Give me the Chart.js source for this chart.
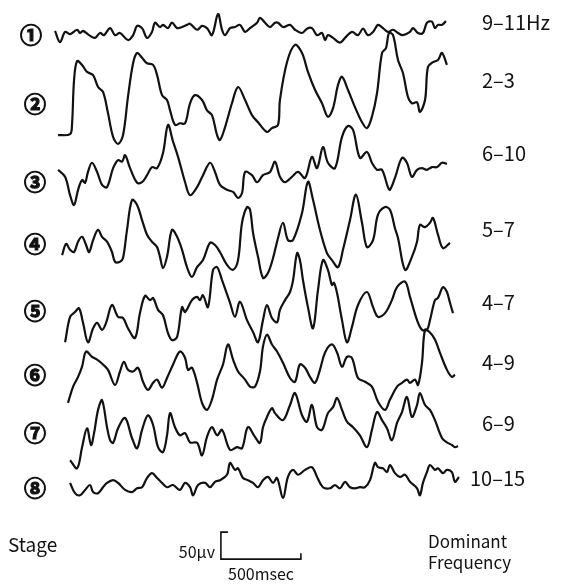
<!DOCTYPE html>
<html>
<head>
<meta charset="utf-8">
<script src="https://cdn.jsdelivr.net/npm/chart.js@4.4.0/dist/chart.umd.min.js"></script>
<style>
  html, body { margin: 0; padding: 0; background: #fff; }
  #wrap { position: absolute; left: 0; top: 0; width: 561px; height: 584px; }
</style>
</head>
<body>
<div id="wrap"><canvas id="eegChart"></canvas></div>
<script>
// EEG traces per stage: [time (ms), amplitude (µV)]
const stage1 = [[0,2],[31,-19],[63,0],[94,-4],[138,4],[156,-2],[175,2],[213,-6],[250,-11],[281,-2],[306,-6],[344,7],[375,-6],[406,-2],[456,-15],[488,-6],[513,11],[544,7],[575,-11],[606,0],[625,17],[656,9],[675,13],[706,7],[731,17],[763,7],[794,9],[825,13],[844,15],[888,4],[919,11],[950,7],[981,-6],[1019,33],[1044,4],[1063,-6],[1094,7],[1125,9],[1156,13],[1188,0],[1219,7],[1263,17],[1281,26],[1313,17],[1344,9],[1375,17],[1394,17],[1425,9],[1469,13],[1500,4],[1544,-2],[1575,6],[1606,7],[1638,-6],[1669,-2],[1688,-15],[1706,-6],[1738,-11],[1781,-20],[1813,-11],[1856,0],[1894,-6],[1925,6],[1956,-6],[1988,0],[2019,13],[2050,7],[2081,0],[2113,4],[2144,-2],[2175,-6],[2219,0],[2238,7],[2269,-2],[2300,-2],[2325,17],[2356,19],[2375,7],[2394,13],[2419,13],[2444,20]];
const stage2 = [[19,-65],[94,-63],[106,-46],[119,37],[138,72],[169,65],[200,52],[238,46],[269,24],[300,15],[331,-24],[363,-68],[394,-81],[425,-65],[456,6],[488,68],[513,87],[544,78],[575,68],[613,65],[638,46],[669,9],[700,0],[719,-19],[750,-46],[781,-43],[813,-43],[844,-6],[875,9],[919,0],[950,-19],[981,-28],[1013,-65],[1031,-74],[1063,-50],[1106,-6],[1144,24],[1188,0],[1231,-28],[1269,-41],[1325,-59],[1356,-52],[1394,-46],[1406,0],[1450,70],[1500,102],[1544,87],[1581,52],[1625,19],[1669,-6],[1706,-31],[1738,-15],[1769,28],[1794,43],[1831,19],[1875,-13],[1919,-41],[1950,-52],[1981,-31],[2013,13],[2044,87],[2069,96],[2088,124],[2113,120],[2144,74],[2175,50],[2206,6],[2231,-6],[2263,-4],[2281,-22],[2313,0],[2331,61],[2363,70],[2394,74],[2419,87],[2450,65]];
const stage3 = [[19,4],[63,-9],[94,-43],[119,-61],[144,-33],[169,-15],[188,-20],[206,0],[231,17],[263,0],[294,-24],[325,-28],[363,7],[394,22],[419,19],[438,31],[469,7],[513,-20],[544,-19],[575,-6],[606,9],[638,7],[675,35],[706,87],[738,56],[769,28],[813,-19],[844,-43],[888,-28],[925,-6],[969,17],[1000,0],[1031,-24],[1075,-33],[1113,-37],[1144,-48],[1169,-39],[1188,0],[1231,-6],[1263,-19],[1300,-6],[1344,0],[1375,19],[1406,-9],[1438,-19],[1481,-9],[1519,0],[1563,-11],[1606,28],[1638,7],[1675,46],[1706,17],[1750,7],[1794,65],[1831,85],[1863,78],[1906,26],[1950,37],[1981,17],[2013,4],[2044,4],[2081,-28],[2094,-33],[2125,-11],[2169,26],[2200,17],[2231,-9],[2263,4],[2294,7],[2325,4],[2356,9],[2388,9],[2419,17],[2450,15]];
const stage4 = [[44,-19],[69,2],[94,-9],[119,-13],[144,6],[169,15],[194,0],[213,-13],[238,9],[269,28],[294,15],[325,6],[356,-13],[375,-31],[406,-31],[425,-24],[450,28],[481,83],[513,74],[544,46],[575,19],[606,6],[638,-4],[656,-22],[675,-43],[700,-22],[731,28],[763,15],[794,-9],[825,-41],[856,-59],[888,-41],[925,-28],[969,4],[1000,0],[1031,-13],[1075,-37],[1113,-46],[1144,-28],[1169,41],[1200,70],[1219,65],[1238,22],[1269,-22],[1300,-61],[1331,-52],[1363,-24],[1394,13],[1425,41],[1456,9],[1488,9],[1544,59],[1581,117],[1613,83],[1656,28],[1700,-15],[1731,-28],[1769,-41],[1800,-9],[1844,46],[1881,93],[1919,41],[1950,-4],[1988,9],[2019,56],[2063,70],[2094,65],[2125,31],[2144,13],[2188,-46],[2231,-22],[2263,6],[2281,37],[2313,33],[2344,41],[2363,50],[2394,19],[2425,-6],[2469,4]];
const stage5 = [[63,-56],[94,-9],[125,0],[150,7],[175,-20],[206,-56],[238,-30],[263,-20],[294,-33],[319,-20],[356,13],[394,-9],[425,-11],[456,-30],[500,-48],[531,-2],[563,30],[594,22],[613,26],[644,4],[675,-6],[706,-39],[731,-52],[763,-46],[794,9],[813,0],[856,22],[888,28],[906,22],[925,31],[956,9],[988,78],[1013,83],[1044,59],[1094,17],[1125,-9],[1156,19],[1200,-15],[1238,-37],[1269,-56],[1300,-15],[1325,13],[1356,-11],[1388,-19],[1406,4],[1438,22],[1469,37],[1488,59],[1513,109],[1531,96],[1550,59],[1581,9],[1613,-30],[1644,41],[1675,96],[1706,78],[1731,50],[1744,54],[1763,35],[1794,-15],[1825,-56],[1856,-28],[1894,13],[1950,37],[1988,9],[2019,-9],[2063,-2],[2106,22],[2138,46],[2188,56],[2219,28],[2263,-15],[2294,-33],[2325,-33],[2344,-15],[2375,22],[2394,26],[2425,46],[2450,37],[2469,17],[2488,-2]];
const stage6 = [[81,-52],[113,-22],[144,-4],[169,15],[194,43],[231,33],[263,28],[300,19],[331,9],[375,-19],[406,6],[431,24],[456,9],[488,6],[519,13],[550,-13],[581,-28],[613,-15],[638,-9],[669,-24],[700,-6],[738,19],[781,43],[813,31],[831,9],[856,13],[888,-15],[919,-52],[950,-65],[981,-46],[1013,-9],[1050,19],[1081,56],[1113,28],[1144,6],[1188,-9],[1219,-22],[1250,-22],[1281,6],[1300,52],[1325,74],[1356,56],[1388,43],[1425,22],[1469,-6],[1500,-13],[1531,19],[1563,13],[1594,-4],[1625,-15],[1656,9],[1688,41],[1731,56],[1763,41],[1794,15],[1825,33],[1856,31],[1894,-6],[1938,-13],[1981,-22],[2019,-50],[2063,-65],[2094,-46],[2138,-22],[2169,-15],[2200,-9],[2219,-15],[2250,-9],[2269,-19],[2294,22],[2313,83],[2344,78],[2375,65],[2406,41],[2450,9],[2481,-4],[2500,0]];
const stage7 = [[94,-52],[138,-67],[169,-28],[200,7],[225,-24],[244,-2],[269,41],[294,59],[325,9],[344,-15],[363,-20],[394,7],[438,26],[481,-11],[513,-30],[544,4],[581,31],[613,13],[644,-28],[675,-37],[700,-6],[719,35],[750,9],[781,-6],[813,-2],[844,-19],[888,-20],[919,-43],[950,-9],[981,9],[1013,-6],[1044,4],[1094,-33],[1138,-28],[1169,-30],[1206,9],[1250,-9],[1281,-20],[1300,9],[1325,28],[1356,44],[1375,35],[1425,22],[1469,50],[1500,72],[1544,31],[1575,19],[1606,50],[1638,9],[1669,4],[1706,35],[1738,46],[1763,63],[1794,41],[1825,19],[1863,9],[1906,-6],[1950,-28],[1981,4],[2013,37],[2044,22],[2075,7],[2106,-15],[2138,17],[2169,37],[2200,65],[2231,28],[2263,50],[2281,72],[2313,50],[2344,41],[2375,22],[2419,-11],[2450,-19],[2481,-24],[2500,-28],[2519,-26]];
const stage8 = [[94,4],[125,-15],[156,-19],[188,-9],[219,0],[238,-13],[269,-15],[300,-4],[325,4],[363,9],[394,4],[438,-9],[481,-13],[513,-6],[544,-4],[575,13],[606,22],[638,13],[669,4],[700,-4],[738,0],[781,-9],[813,4],[844,-4],[863,-19],[894,0],[938,4],[969,-4],[1000,6],[1031,9],[1075,19],[1094,41],[1125,28],[1144,31],[1175,13],[1206,9],[1238,4],[1269,-4],[1300,9],[1331,15],[1363,4],[1388,13],[1425,-24],[1456,15],[1488,28],[1519,19],[1563,28],[1606,33],[1638,15],[1675,-4],[1719,-6],[1750,0],[1781,-6],[1813,6],[1844,-4],[1875,-6],[1906,-4],[1938,-4],[1969,9],[2000,41],[2019,33],[2050,31],[2075,24],[2094,37],[2125,22],[2156,15],[2188,19],[2219,6],[2263,-6],[2281,-19],[2300,4],[2325,24],[2344,37],[2375,28],[2394,31],[2425,22],[2450,28],[2481,24],[2500,6],[2525,15]];

const stageLabels = ['①', '②', '③', '④', '⑤', '⑥', '⑦', '⑧'];
const dominantFreq = ['9–11Hz', '2–3', '6–10', '5–7', '4–7', '4–9', '6–9', '10–15'];

// calibration bar
const scaleBarMs = 500;
const scaleBarUv = 50;

// layout: vertical offset of each trace in µV (stacked display)
const traceOffset = [1021, 895, 762, 627, 503, 387, 281, 183];
const labelX = [31, 35, 35, 35, 35, 35, 35, 35];
const labelY = [35, 104, 182, 244, 311, 375, 433, 488];
const freqY = [22, 80, 153, 229, 302, 362, 423, 478];

const traces = [stage1, stage2, stage3, stage4, stage5, stage6, stage7, stage8];

const datasets = traces.map((tr, i) => ({
    data: tr.map(p => ({ x: p[0], y: p[1] + traceOffset[i] })),
    borderColor: '#111',
    borderWidth: 2.2,
    tension: 0.35,
    pointRadius: 0,
    fill: false,
    clip: false
}));

// scale bar bracket as its own dataset
const barX = 1037, barY = 46;
datasets.push({
    data: [
        { x: barX + 44, y: barY + scaleBarUv },
        { x: barX, y: barY + scaleBarUv },
        { x: barX, y: barY },
        { x: barX + scaleBarMs, y: barY },
        { x: barX + scaleBarMs, y: barY + 11 }
    ],
    borderColor: '#111',
    borderWidth: 1.6,
    tension: 0,
    pointRadius: 0,
    fill: false
});

const FONT = '"Noto Sans CJK JP", "Noto Sans", sans-serif';

// texts around the traces
const textPlugin = {
    id: 'eegText',
    afterDraw(chart) {
        const ctx = chart.ctx;
        ctx.save();
        ctx.fillStyle = '#111';
        ctx.strokeStyle = '#111';
        ctx.textBaseline = 'middle';

        ctx.font = 'bold 22px ' + FONT;
        ctx.textAlign = 'center';
        ctx.lineWidth = 1.1;
        stageLabels.forEach((s, i) => {
            ctx.fillText(s, labelX[i], labelY[i]);
            ctx.strokeText(s, labelX[i], labelY[i]);
        });

        ctx.font = '20px ' + FONT;
        ctx.textAlign = 'left';
        dominantFreq.forEach((f, i) => ctx.fillText(f, i === 7 ? 470 : 482, freqY[i]));

        ctx.font = '19px ' + FONT;
        ctx.fillText('Stage', 8, 545);
        ctx.font = '17px ' + FONT;
        ctx.fillText('Dominant', 428, 542);
        ctx.fillText('Frequency', 428, 563);

        ctx.font = '16px ' + FONT;
        ctx.textAlign = 'right';
        ctx.fillText('50\u03bcv', 215, 552);
        ctx.textAlign = 'center';
        ctx.fillText('500msec', 261, 574);
        ctx.restore();
    }
};

new Chart(document.getElementById('eegChart'), {
    type: 'line',
    data: { datasets },
    options: {
        responsive: true,
        maintainAspectRatio: false,
        animation: false,
        layout: { padding: 0 },
        plugins: { legend: { display: false }, tooltip: { enabled: false } },
        scales: {
            x: { type: 'linear', display: false, min: -344, max: 3163 },
            y: { type: 'linear', display: false, min: 0, max: 1080 }
        }
    },
    plugins: [textPlugin]
});
</script>
</body>
</html>
